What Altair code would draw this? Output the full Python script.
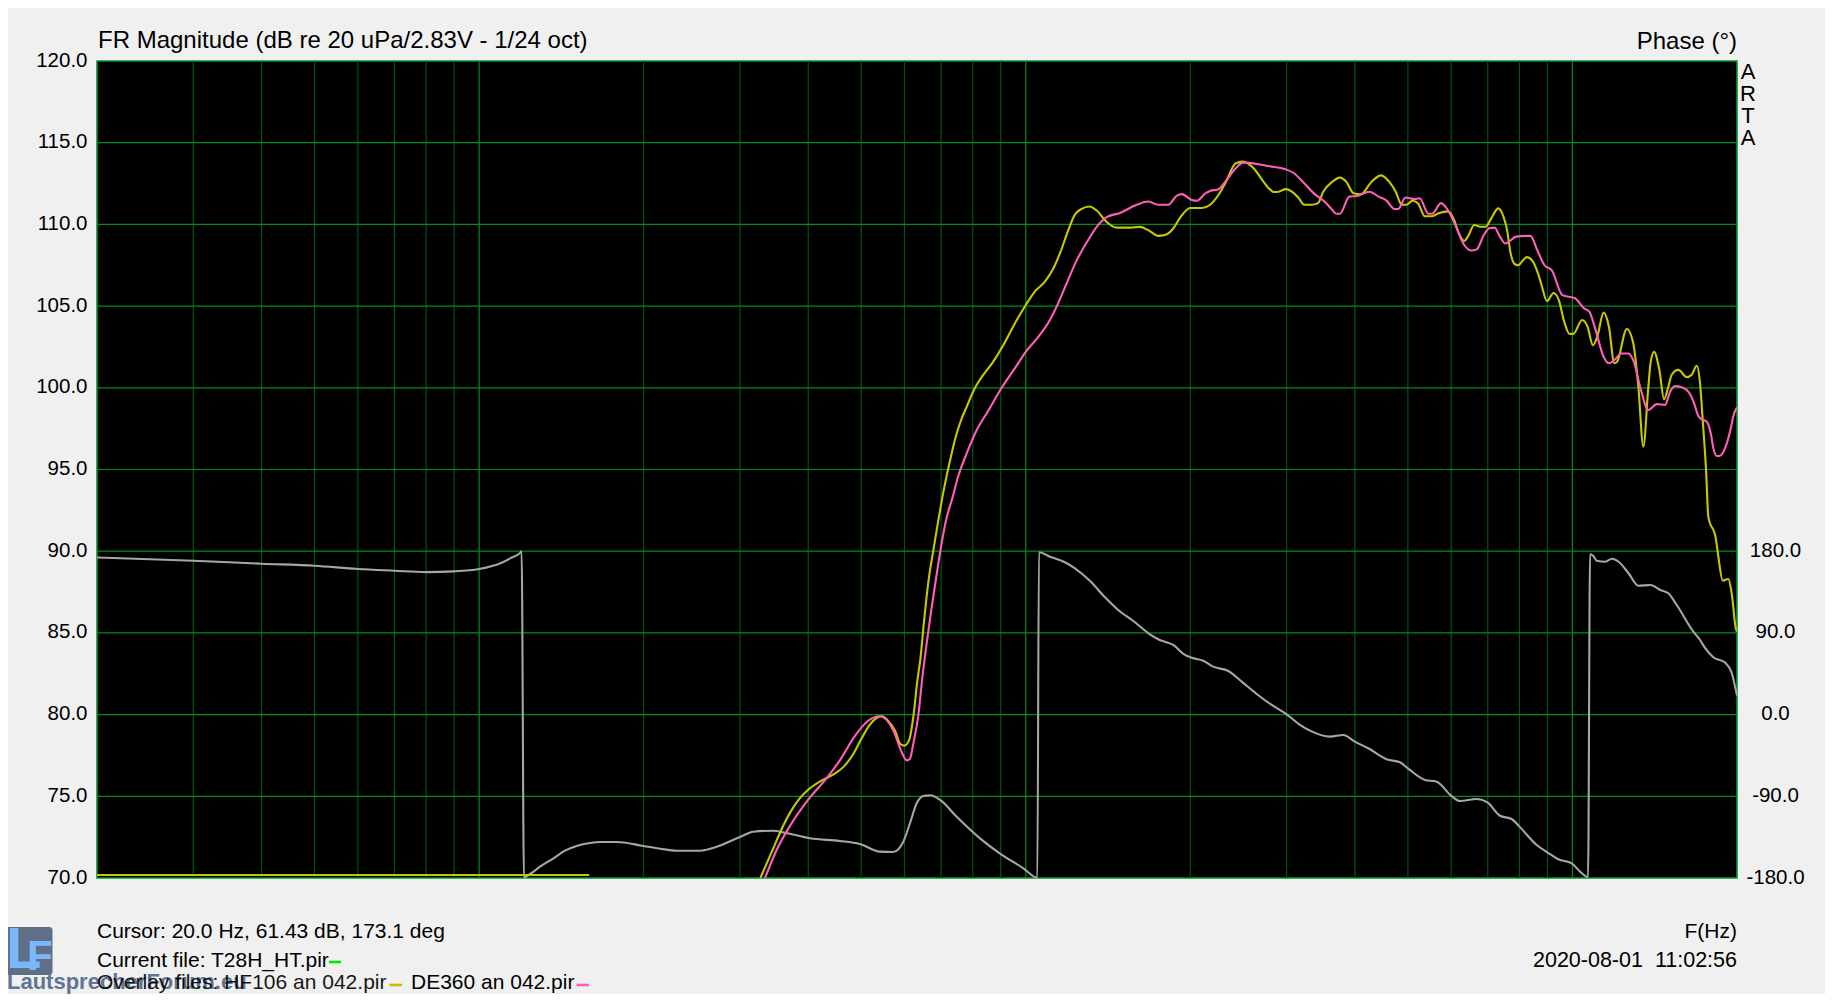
import altair as alt
import pandas as pd

FONT = "Liberation Sans"
BG = "#f0f0f0"
MAJOR = "#058a1e"
MINOR = "#005514"

freq_minor = [30, 40, 50, 60, 70, 80, 90, 200, 300, 400, 500, 600, 700, 800, 900,
              2000, 3000, 4000, 5000, 6000, 7000, 8000, 9000]
freq_major = [100, 1000, 10000]
db_lines = [75, 80, 85, 90, 95, 100, 105, 110, 115]
freq_labels = [20, 50, 100, 200, 500, 1000, 2000, 5000, 10000, 20000]
db_labels = [70, 75, 80, 85, 90, 95, 100, 105, 110, 115, 120]
phase_labels = [-180, -90, 0, 90, 180]

yellow_floor = [(20, 70.18), (159, 70.18)]

yellow = [
    (327, 70.0), (343, 71.6), (360, 73.2), (370.5, 74.0), (386.5, 74.9), (400, 75.4),
    (420, 75.9), (448, 76.4), (464, 76.8), (484, 77.6), (500, 78.5), (519, 79.4),
    (534, 79.8), (545.5, 79.9), (561, 79.6), (577, 79.0), (589.5, 78.2), (600, 78.1),
    (612, 78.45), (623, 79.9), (633.5, 82.1), (641, 83.3), (651, 85.6), (663, 88.05),
    (677.6, 90.07), (692, 91.9), (706.5, 93.6), (732, 96.0), (747.5, 97.2), (763, 98.1),
    (780, 98.85), (807.5, 100.0), (824.6, 100.5), (872, 101.6), (909.5, 102.6),
    (955.5, 103.95), (1000, 105.07), (1039.6, 105.9), (1084, 106.5), (1123, 107.3),
    (1163, 108.5), (1196, 109.65), (1230, 110.6), (1265.5, 110.95), (1307, 111.1),
    (1348, 110.85), (1406, 110.15), (1466.5, 109.8), (1551, 109.8), (1618, 109.85),
    (1675, 109.65), (1747, 109.3), (1797, 109.35), (1861, 109.75), (1914.5, 110.4),
    (2000, 111.0), (2099, 111.0), (2174, 111.2), (2251, 111.8), (2316, 112.5),
    (2422, 113.74), (2496, 113.84), (2611, 113.43), (2711, 112.7), (2793, 112.16),
    (2844, 111.98), (2901, 112.0), (2989, 112.16), (3080, 111.96), (3150, 111.65),
    (3232, 111.2), (3330, 111.2), (3423, 111.3), (3500, 112.0), (3634, 112.6),
    (3756, 112.86), (3859, 112.6), (3978, 111.9), (4099, 111.84), (4288, 112.6),
    (4467, 113.0), (4624, 112.6), (4750, 112.0), (4873, 111.2), (4968, 111.2),
    (5098, 111.45), (5215, 111.3), (5373, 110.5), (5536, 110.5), (5707, 110.7),
    (5925, 110.8), (6061, 110.35), (6198, 109.45), (6340, 108.98), (6437, 109.25),
    (6613, 109.96), (6785, 109.86), (6939, 109.86), (7098, 110.35), (7313, 110.98),
    (7481, 110.47), (7593, 109.65), (7708, 108.23), (7826, 107.6), (7946, 107.5),
    (8250, 108.0), (8436, 107.8), (8630, 107.1), (8762, 106.4), (8985, 105.3),
    (9234, 105.8), (9443, 105.37), (9660, 104.05), (9878, 103.3), (10035, 103.3),
    (10416, 104.15), (10657, 103.74), (10901, 102.6), (11096, 103.1), (11404, 104.6),
    (11661, 103.74), (11930, 101.5), (12072, 101.6), (12575, 103.6), (12925, 102.7),
    (13200, 100.07), (13481, 96.4), (13768, 100.07), (13908, 101.6), (14103, 102.2),
    (14421, 101.1), (14709, 99.3), (14978, 100.07), (15194, 100.8), (15622, 101.1),
    (16185, 100.65), (16530, 100.8), (16881, 101.35), (17117, 100.27), (17313, 98.0),
    (17556, 94.97), (17727, 92.1), (18288, 90.8), (18490, 89.66), (18836, 88.2),
    (19286, 88.3), (19563, 87.4), (19920, 85.2), (20000, 85.1),
]

pink = [
    (333.5, 70.0), (350, 71.7), (370.5, 73.2), (400, 74.8), (432, 76.1), (457, 77.2),
    (487, 78.7), (511.7, 79.55), (541, 79.9), (572, 79.05), (593, 77.7), (605.6, 77.2),
    (614, 77.3), (622.6, 78.2), (636, 79.95), (648, 82.5), (659, 84.4), (673, 86.6),
    (689, 88.85), (700, 90.3), (717, 92.1), (732, 93.1), (752.6, 94.6), (780, 96.0),
    (813, 97.4), (854, 98.6), (903.4, 100.0), (955.5, 101.2), (1000, 102.2),
    (1047, 103.0), (1107, 104.15), (1147, 105.2), (1188, 106.4), (1239, 107.8),
    (1301, 109.05), (1348, 109.85), (1406, 110.45), (1487, 110.7), (1595.5, 111.2),
    (1675, 111.4), (1747, 111.2), (1822, 111.2), (1888, 111.75), (1929, 111.85),
    (2012, 111.5), (2055, 111.45), (2131, 111.9), (2174, 112.05), (2251, 112.15),
    (2316, 112.6), (2422, 113.43), (2496, 113.78), (2650, 113.7), (2774, 113.57),
    (2989, 113.37), (3096, 113.13), (3215, 112.6), (3364, 111.9), (3519, 111.4),
    (3634, 110.9), (3699, 110.65), (3756, 110.65), (3907, 111.7), (4037, 111.74),
    (4255, 112.0), (4420, 111.7), (4554, 111.5), (4728, 110.94), (4800, 110.94),
    (4950, 111.65), (5137, 111.55), (5253, 111.6), (5456, 110.65), (5536, 110.65),
    (5750, 111.3), (5925, 110.85), (6107, 109.96), (6340, 108.74), (6530, 108.4),
    (6680, 108.47), (6886, 109.35), (7044, 109.76), (7203, 109.8), (7369, 109.25),
    (7538, 108.84), (7651, 108.94), (7886, 109.25), (8376, 109.3), (8630, 108.4),
    (8891, 107.5), (9164, 107.2), (9587, 105.67), (10110, 105.48), (10496, 104.87),
    (10738, 104.66), (10980, 103.74), (11404, 101.9), (11661, 101.5), (11930, 101.7),
    (12290, 102.1), (12665, 102.1), (12950, 101.6), (13344, 99.87), (13768, 98.64),
    (14265, 99.0), (14773, 98.95), (15088, 99.76), (15409, 100.1), (15850, 100.03),
    (16415, 99.6), (16693, 99.05), (16997, 98.27), (17244, 98.07), (17610, 97.92),
    (17910, 97.2), (18107, 96.3), (18368, 95.83), (18570, 95.83), (19158, 96.6),
    (19563, 97.8), (19670, 98.2), (20000, 98.8),
]

phase = [
    (20, 173), (30, 169.5), (40, 166.2), (50, 164), (60, 160.4), (70, 158.5), (80, 157),
    (90, 157.8), (100, 160.4), (110, 167.3), (115, 173.3), (119, 178.4), (119.6, 180),
    (120.8, -179.3), (124, -175.6), (129.3, -167.5), (136.8, -158.3), (143.6, -149.9),
    (150.8, -144.7), (158.4, -141.8), (166.4, -140.3), (178.5, -140.3), (199.7, -144.7),
    (214.3, -147.7), (229.8, -149.9), (253.5, -149.9), (272, -145.5), (300, -134.8),
    (317.3, -129), (345, -127.9), (362.8, -130.1), (403, -136.3), (457, -139.2),
    (497, -142.5), (541, -151), (572, -151.3), (597, -140), (614, -119.7), (631.6, -97.7),
    (649.5, -89.7), (668, -88.9), (697, -94), (747.5, -112.5), (824.6, -136.3),
    (896, -152.8), (990, -169.3), (1050, -179.7), (1057, 178.8), (1107, 174), (1179, 167.8),
    (1230, 161.2), (1310, 147.5), (1396, 129.2), (1476, 115.2), (1573, 103.1), (1687, 88.5),
    (1747, 83), (1861, 76.7), (1955, 65.7), (2012, 62.7), (2112, 59.4), (2203, 52.8),
    (2347, 48), (2483, 36.3), (2645, 22.7), (2818, 10.6), (3000, 0.3), (3164, -10.7),
    (3311, -17.7), (3602, -24.3), (3809, -22.5), (4000, -29.8), (4230, -37.1),
    (4571, -49.2), (4835, -52.5), (5000, -59.2), (5373, -72), (5645, -73.9), (6000, -89.3),
    (6227, -95.2), (6680, -93), (7000, -97), (7369, -111.4), (7741, -115), (8000, -123.4),
    (8601, -143.6), (9000, -151.7), (9419, -159.4), (9970, -163.8), (10325, -173),
    (10680, -179), (10770, 176.6), (10921, 174.7), (11080, 169.5), (11484, 168.4),
    (11813, 171.7), (12146, 168.4), (12668, 155.7), (13200, 142), (13890, 142.8),
    (14487, 137.3), (14978, 133.6), (15518, 120.7), (16642, 91.3), (17117, 82.2),
    (17481, 73.4), (18076, 63.5), (19045, 57), (19533, 46.9), (20000, 20.9),
]


def frame(points, name):
    return pd.DataFrame(points, columns=["f", name])


x_scale = alt.Scale(type="log", domain=[20, 20000], nice=False)
db_scale = alt.Scale(domain=[70, 120], nice=False, zero=False)
phase_scale = alt.Scale(domain=[-180, 720], nice=False, zero=False)


def curve(points, color, width=2.1, interp="monotone"):
    return alt.Chart(frame(points, "db")).mark_line(
        color=color, strokeWidth=width, clip=True, interpolate=interp
    ).encode(
        x=alt.X("f:Q", scale=x_scale, axis=None),
        y=alt.Y("db:Q", scale=db_scale, axis=None),
    )


def label(text, x, y, align="left", size=21, color="#000000", weight="normal", font=FONT, opacity=1.0):
    return alt.Chart(pd.DataFrame({"t": [text]})).mark_text(
        align=align, baseline="middle", fontSize=size, font=font, color=color,
        fontWeight=weight, opacity=opacity,
    ).encode(x=alt.value(x - 97), y=alt.value(y - 61), text="t:N")


def swatch(color, x0, x1, y):
    return alt.Chart(pd.DataFrame({"c": [1]})).mark_rule(color=color, strokeWidth=2.6).encode(
        x=alt.value(x0 - 97), x2=alt.value(x1 - 97), y=alt.value(y - 61)
    )


grid_minor = alt.Chart(pd.DataFrame({"f": freq_minor})).mark_rule(color=MINOR, strokeWidth=1.2).encode(
    x=alt.X("f:Q", scale=x_scale, axis=None)
)
grid_major = alt.Chart(pd.DataFrame({"f": freq_major})).mark_rule(color=MAJOR, strokeWidth=1.2).encode(
    x=alt.X("f:Q", scale=x_scale, axis=None)
)
grid_db = alt.Chart(pd.DataFrame({"d": db_lines})).mark_rule(color=MAJOR, strokeWidth=1.2).encode(
    y=alt.Y("d:Q", scale=db_scale, axis=None)
)

axis_x = alt.Chart(pd.DataFrame({"f": freq_labels})).mark_point(opacity=0).encode(
    x=alt.X("f:Q", scale=x_scale, title=None, axis=alt.Axis(
        values=freq_labels, grid=False, ticks=False, domain=False, labelFontSize=20.5,
        labelFont=FONT, labelColor="#000000", labelPadding=13, labelFlush=False,
        labelOverlap=False, labelBound=False,
        labelExpr="datum.value >= 1000 ? (datum.value / 1000) + 'k' : '' + datum.value",
    ))
)
axis_db = alt.Chart(pd.DataFrame({"d": db_labels})).mark_point(opacity=0).encode(
    y=alt.Y("d:Q", scale=db_scale, title=None, axis=alt.Axis(
        values=db_labels, grid=False, ticks=False, domain=False, labelFontSize=20.5,
        labelFont=FONT, labelColor="#000000", labelPadding=10, format=".1f",
        labelOverlap=False, labelFlush=False, labelBound=False, labelOffset=-1,
    ))
)
axis_phase = alt.Chart(frame(phase, "deg")).mark_line(
    color="#a6a6a6", strokeWidth=2.1, interpolate="monotone"
).encode(
    x=alt.X("f:Q", scale=x_scale, axis=None),
    y=alt.Y("deg:Q", scale=phase_scale, title=None, axis=alt.Axis(
        orient="right", values=phase_labels, grid=False, ticks=False, domain=False,
        labelFontSize=20.5, labelFont=FONT, labelColor="#000000", labelPadding=38,
        labelAlign="center", labelOverlap=False, labelFlush=False, labelBound=False,
        labelOffset=-1,
        labelExpr="(datum.value < 0 ? '-' : '') + format(abs(datum.value), '.1f')",
    )),
)

logo_box = alt.Chart(pd.DataFrame({"c": [1]})).mark_rect(color="#5f6f87", cornerRadius=3).encode(
    x=alt.value(5.5 - 97), x2=alt.value(52.5 - 97), y=alt.value(927 - 61), y2=alt.value(975 - 61)
)

chart = alt.layer(
    grid_minor, grid_major, grid_db,
    axis_x, axis_db, axis_phase,
    curve(yellow_floor, "#c8c800", interp="linear"),
    curve(yellow, "#c8c800"),
    curve(pink, "#ff5fb8"),
    label("FR Magnitude (dB re 20 uPa/2.83V - 1/24 oct)", 98, 41, size=24),
    label("Phase (°)", 1737, 42, align="right", size=24),
    label("A", 1748, 72, align="center", size=22),
    label("R", 1748, 94, align="center", size=22),
    label("T", 1748, 116, align="center", size=22),
    label("A", 1748, 138, align="center", size=22),
    logo_box,
    label("L", 6, 951, size=58, color="#7ab8fa", weight="bold"),
    label("F", 27, 957, size=42, color="#7ab8fa", weight="bold"),
    label("LautsprecherForum.eu", 7, 982, size=22, color="#5f7592", weight="bold"),
    label("Cursor: 20.0 Hz, 61.43 dB, 173.1 deg", 97, 932),
    label("Current file: T28H_HT.pir", 97, 961),
    swatch("#00e600", 329, 341, 962),
    label("Overlay files: HF106 an 042.pir", 97, 983, opacity=0.9),
    swatch("#c0c000", 389.5, 402, 985),
    label("DE360 an 042.pir", 411, 983),
    swatch("#ff5fb8", 576.5, 589, 985),
    label("F(Hz)", 1737, 932, align="right"),
    label("2020-08-01\u00a0\u00a011:02:56", 1737, 961, align="right", size=21.5),
).resolve_scale(y="independent").properties(
    width=1640,
    height=817,
    padding={"left": 89, "top": 53, "right": 88, "bottom": 116},
    autosize=alt.AutoSizeParams(type="none"),
    background=BG,
).configure_view(fill="#000000", stroke="#00962d", strokeWidth=1.6)

chart.save("out.html", embed_options={"renderer": "svg", "actions": False})
